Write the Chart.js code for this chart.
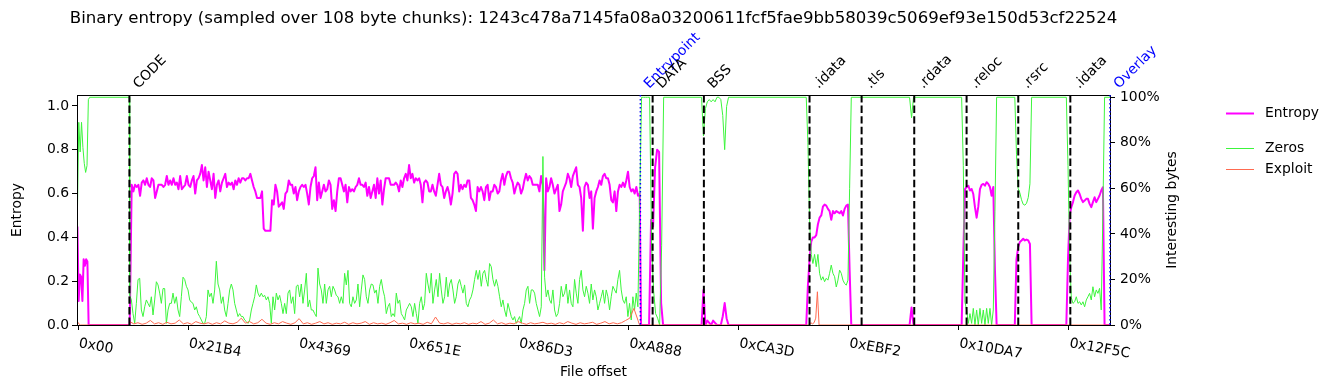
<!DOCTYPE html>
<html><head><meta charset="utf-8">
<script src="https://cdn.jsdelivr.net/npm/chart.js@4.4.1/dist/chart.umd.min.js"></script>
<style>html,body{margin:0;padding:0;background:#fff;overflow:hidden}canvas{display:block}</style>
</head><body>
<canvas id="c" width="1335" height="390"></canvas>
<script>
const chartTitle = "Binary entropy (sampled over 108 byte chunks): 1243c478a7145fa08a03200611fcf5fae9bb58039c5069ef93e150d53cf22524";
const chunkBytes = 108;
const xTickLabels = ["0x00","0x21B4","0x4369","0x651E","0x86D3","0xA888","0xCA3D","0xEBF2","0x10DA7","0x12F5C"];
const entropyTicks = [0, 0.2, 0.4, 0.6, 0.8, 1.0];
const percentTicks = [0, 20, 40, 60, 80, 100];
const xRange = [-0.95, 748.9];           // chunk index
const sectionNames  = ["CODE","Entrypoint","DATA","BSS",".idata",".tls",".rdata",".reloc",".rsrc",".idata","Overlay"];
const sectionChunks = [37.1, 408.0, 416.9, 454.1, 530.8, 568.6, 606.8, 644.8, 682.3, 720.1, 748.9];
const sectionKinds  = ["section","marker","section","section","section","section","section","section","section","section","marker"];

// ---- Entropy (0..1), values evenly spread over [fromChunk, toChunk]
const entropyHead = [0.45,0.11,0.23,0.22,0.11,0.30,0.27,0.30,0.29,0];
const entropyCode = [
0.64,0.61,0.64,0.63,0.64,0.59,0.65,0.66,0.64,0.67,0.64,0.63,0.67,0.66,0.58,0.61,0.64,0.64,0.64,0.63,
0.64,0.68,0.64,0.66,0.64,0.67,0.64,0.65,0.62,0.68,0.62,0.63,0.64,0.68,0.64,0.63,0.66,0.68,0.60,0.66,
0.67,0.69,0.73,0.66,0.72,0.63,0.70,0.66,0.62,0.69,0.58,0.64,0.66,0.61,0.65,0.67,0.69,0.63,0.65,0.64,
0.65,0.62,0.66,0.64,0.67,0.65,0.67,0.67,0.66,0.67,0.67,0.69,0.66,0.63,0.61,0.58,0.58,0.58,0.61,0.44,
0.43,0.43,0.43,0.43,
0.57,0.55,0.64,0.61,0.54,0.55,0.56,0.53,0.60,0.61,0.66,0.64,0.64,0.60,0.63,0.57,0.61,0.63,0.64,0.63,
0.64,0.60,0.55,0.63,0.67,0.68,0.72,0.57,0.65,0.58,0.61,0.64,0.61,0.62,0.66,0.64,0.53,0.57,0.52,0.61,
0.67,0.67,0.64,0.61,0.64,0.56,0.63,0.61,0.62,0.61,0.63,0.64,0.67,0.64,0.64,0.63,0.65,0.59,0.63,0.58,
0.61,0.64,0.58,0.67,0.60,0.66,0.55,0.62,0.67,0.67,0.67,0.64,0.64,0.64,0.65,0.64,0.61,0.66,0.63,0.67,
0.69,0.66,0.73,0.67,0.69,0.65,0.67,0.66,0.67,0.64,0.56,0.65,0.66,0.65,0.61,0.61,0.64,0.61,0.59,0.64,
0.69,0.64,0.63,0.58,0.61,0.63,0.60,0.55,0.60,0.69,0.70,0.69,0.61,
0.64,0.62,0.64,0.63,0.66,0.66,0.58,0.57,0.55,0.52,0.63,0.61,0.63,0.61,0.57,0.63,0.64,0.57,0.61,0.61,
0.64,0.63,0.60,0.61,0.66,0.69,0.64,0.68,0.70,0.70,0.67,0.65,0.60,0.63,0.65,0.64,0.60,0.62,0.66,0.69,
0.66,0.68,0.67,0.64,0.64,0.64,0.64,0.61,0.68,0.64,0.25,0.67,0.61,0.63,0.67,0.64,0.60,0.62,0.64,0.52,
0.55,0.61,0.63,0.65,0.69,0.67,0.63,0.68,0.70,0.72,0.64,0.63,0.58,0.43,0.63,0.65,0.64,0.58,0.61,0.44,
0.58,0.61,0.63,0.66,0.64,0.68,0.69,0.67,0.67,0.64,0.57,0.56,0.61,0.52,0.61,0.64,0.63,0.65,0.63,0.66,
0.70,0.63,0.61,0.62,0.60,0.63,0.59,0.60];
const entropyData  = [0,0,0,0,0,0.48,0.45,0.72,0.80,0.79,0.10,0];
const entropyBss   = [0,0.16,0,0.02,0.01,0,0.02,0.01,0,0,0,0.04,0.10,0.03,0];
const entropyIdata = [0,0.18,0.30,0.38,0.40,0.40,0.41,0.46,0.49,0.50,0.54,0.55,0.545,0.53,0.52,0.48,0.52,0.51,0.52,0.515,0.51,0.52,0.50,0.53,0.545,0.55,0.25,0];
const entropyRdata = [0,0.08,0];
const entropyReloc = [0,0.32,0.62,0.63,0.636,0.614,0.621,0.598,0.538,0.49,0.54,0.62,0.64,0.644,0.636,0.652,0.644,0.63,0.59,0.63,0.25,0];
const entropyRsrc  = [0,0.30,0.356,0.379,0.386,0.394,0.386,0.39,0.386,0.37,0];
const entropyIdata2 = [0,0.30,0.50,0.538,0.561,0.591,0.606,0.614,0.598,0.576,0.561,0.568,0.576,0.576,0.553,0.538,0.561,0.583,0.561,0.576,0.591,0.614,0.629,0];

// ---- Zeros (% of chunk)
const zerosHead = [49,89,76,89,78,71,67,70,99,100];
const zerosCode = [
13,11,5,0.7,9.5,20,20.5,6.6,3.7,8,11,9.5,8,12.4,4.4,11,19,17.6,14,9.5,
16,16,0.7,6.6,9.5,9.5,14,9.5,12.4,6.6,3.7,12.4,21,20,17,15.4,11,10,9.5,6.6,
8,5,3.7,2.2,0.7,0.7,3.7,15.4,12.4,14,9.5,15.4,28,18,15.4,9.5,12.4,6.6,3.7,9.5,
15.4,18,15.4,9.5,6.6,3.7,5,3.7,3.7,2.2,1.5,0.7,2.2,6.6,9.5,12.4,17.6,14,12.4,14,
12.4,13,11,12.4,9.5,0.7,12.4,6.6,14,11,13,9.5,5,9.5,5,14,15.4,9.5,12.4,5,
17,17.6,12.4,18,9.5,15.4,22.7,8,11,6.6,6.6,5,3.7,25,18,15.4,9.5,18,9.5,15.4,
17,12.4,17,15.4,13,12.4,9.5,12.4,9.5,22.7,17.6,24,9.5,8,12.4,9.5,11,18,8,15.4,
22,20,12.4,9.5,15.4,18,17.6,14,15.4,9.5,17,20,15.4,12.4,5,8,9.5,3.7,5,3.7,
14,9.5,11,5,3.7,2.2,6.6,8,9.5,
8,3.7,9.5,5,0.7,9.5,12.4,6.6,9.5,22.7,18,14,22.7,9.5,15.4,20,12.4,22.7,15.4,9.5,
12.4,21,12.4,18,20,15.4,9.5,12.4,18,20,17,14,17.6,9.5,8,11,12.4,15.4,20,24,
20,24,17,22.7,24,20,17,27,25.6,20,17,20,17,12.4,8,11,6.6,3.7,9.5,6.6,
3.7,2.2,3.7,0.7,2.2,3.7,0.7,6.6,9.5,15.4,17,9.5,15.4,15.4,14,9.5,6.6,3.7,8,74,
21,12.4,15.4,11,9.5,15.4,6.6,3.7,5,9.5,17,12.4,14,18,9.5,15.4,9.5,8,20,14,
9.5,20,24,15.4,12.4,17,14,9.5,18,11,15.4,12.4,6.6,9.5,12.4,15.4,9.5,15.4,12.4,6.6,
12.4,17,15.4,14,20,24,15.4,11,9.5,12.4,3.7,9.5,2.2,12.4,6.6,14,8];
const zerosData   = [50,100,100,100,100,100,35,15,5,3,0,35,100];
const zerosBss    = [100,83,95,98,99,98,99,98,100,100,99,92,77,96,100];
const zerosIdata  = [100,80,46,31,27,31,25.6,31,22.7,19.7,21.2,19,20.5,19.7,22.7,26.3,22.7,21.2,16.7,19.7,24.1,22.7,19.7,18.2,17.5,19.7,60,100];
const zerosRdata  = [100,91,100];
const zerosReloc  = [100,70,10,6.6,0.7,5,0.7,7.3,0,6.6,0,7.3,0.7,6.6,0,7.3,0.7,7.3,0,6.6,50,100];
const zerosRsrc   = [100,75,60,58,55,53,52.6,53.5,56,62,100];
const zerosIdata2 = [100,70,30,12,9.5,10.2,12.4,9.5,10.2,8.8,10.2,8.0,11,12.4,13.9,11,16.8,12.4,15.4,13.9,16.1,6.6,50,100];

// ---- Exploit (% of chunk)
const exploitHead = [1.5,0.5,0];
const exploitCode = [
1.5,0.5,1,0.3,0.8,2,0.5,1,0.3,1.2,0.5,0.8,2.2,0.5,1,0.3,1.5,0.8,0.5,1,
0.3,1,0.5,1.8,0.8,0.5,1.2,3,0.8,1.5,0.5,1,2.5,0.8,0.3,1,0.5,1.5,0.8,0.3,
1,2.8,0.5,1,0.3,0.8,1.5,0.5,1,0.3,0.8,0.5,1.2,0.3,1,0.5,0.8,1.5,0.3,1,
0.5,0.8,0.3,1,2,0.5,0.8,0.3,1,0.5,0.8,0.3,1.2,0.5,3.5,0.8,0.5,1,0.3,0.8,
0.5,1,0.3,0.8,0.5,1.5,0.3,0.8,2.2,0.5,1,0.3,0.8,0.5,1.5,0.8,0.3,1,0.5,0.8,
1.2,0.5,0.8,0.3,1,0.5,1.5,0.8,0.3,1,0.5,0.8,1.2,0.3,0.8,1.5,0.5,1,0.5,1,
2,3,7.3,2];
const exploitIdata = [0,1,0.5,1,3,14.6,0];

// runs: [fromChunk, toChunk, values]
const entropyRuns = [
 [-0.65, 7.5, entropyHead], [7.5, 37.3, [0,0]], [38.76, 407.5, entropyCode],
 [408.5, 424.5, entropyData], [424.5, 452.4, [0,0]], [452.4, 472.0, entropyBss],
 [472.0, 528.4, [0,0]], [528.4, 561.1, entropyIdata], [561.1, 603.4, [0,0]],
 [603.4, 606.3, entropyRdata], [606.3, 641.2, [0,0]], [641.2, 666.6, entropyReloc],
 [666.6, 679.8, [0,0]], [679.8, 692.0, entropyRsrc], [692.0, 717.2, [0,0]],
 [717.2, 744.96, entropyIdata2], [744.96, 748.9, [0,0]]];
const zerosRuns = [
 [-0.65, 8.3, zerosHead], [8.3, 37.0, [100,100]], [37.3, 406.2, zerosCode],
 [407.4, 424.9, zerosData], [424.9, 452.4, [100,100]], [452.4, 472.0, zerosBss],
 [472.0, 528.4, [100,100]], [528.4, 561.1, zerosIdata], [561.1, 603.4, [100,100]],
 [603.4, 606.3, zerosRdata], [606.3, 641.2, [100,100]], [641.2, 666.6, zerosReloc],
 [666.6, 679.8, [100,100]], [679.8, 692.0, zerosRsrc], [692.0, 717.2, [100,100]],
 [717.2, 744.96, zerosIdata2], [744.96, 748.9, [100,100]]];
const exploitRuns = [
 [-0.65, 1.5, exploitHead], [1.5, 37.3, [0,0]], [37.3, 406.3, exploitCode],
 [407.4, 530.5, [0,0]], [530.5, 537.7, exploitIdata], [537.7, 748.9, [0,0]]];

function buildSeries(runs) {
  const pts = [];
  runs.forEach(([a, b, vals]) => {
    const n = vals.length;
    vals.forEach((v, i) => pts.push({x: n > 1 ? a + (b - a) * i / (n - 1) : a, y: v}));
  });
  return pts;
}

const FONT = '"DejaVu Sans", sans-serif';
Chart.defaults.font.family = FONT;
Chart.defaults.font.size = 13.9;
Chart.defaults.color = '#000';

const tickGrid = {display: true, drawOnChartArea: false, drawTicks: true, tickLength: 5, color: '#000', lineWidth: 1};

const decor = {
  id: 'decor',
  afterDatasetsDraw(chart) {
    const {ctx, chartArea: a, scales: {x}} = chart;
    ctx.save();
    ctx.strokeStyle = '#000'; ctx.lineWidth = 1;
    ctx.strokeRect(a.left + 0.5, a.top + 0.5, a.right - a.left, a.bottom - a.top);
    // section markers
    sectionNames.forEach((name, i) => {
      const px = x.getPixelForValue(sectionChunks[i]);
      const marker = sectionKinds[i] === 'marker';
      ctx.beginPath();
      ctx.setLineDash(marker ? [1.5, 2.5] : [7.4, 3.2]);
      ctx.lineWidth = marker ? 1.5 : 2;
      ctx.strokeStyle = marker ? '#0000ff' : '#000';
      ctx.moveTo(px, a.top); ctx.lineTo(px, a.bottom); ctx.stroke();
      ctx.save();
      ctx.setLineDash([]);
      ctx.font = '13.9px ' + FONT;
      ctx.fillStyle = marker ? '#0000ff' : '#000';
      ctx.textAlign = 'left'; ctx.textBaseline = 'alphabetic';
      ctx.translate(px + 9, 89);
      ctx.rotate(-Math.PI / 4);
      ctx.fillText(name, 0, 0);
      ctx.restore();
    });
    ctx.setLineDash([]);
    // x tick labels (rotated)
    ctx.font = '13.9px ' + FONT;
    ctx.fillStyle = '#000';
    x.ticks.forEach((t, i) => {
      const px = x.getPixelForValue(t.value);
      ctx.save();
      ctx.translate(px, 347);
      ctx.rotate(10 * Math.PI / 180);
      ctx.textAlign = 'left'; ctx.textBaseline = 'alphabetic';
      ctx.fillText(xTickLabels[i], 0, 0);
      ctx.restore();
    });
    // axis titles
    ctx.textAlign = 'center'; ctx.textBaseline = 'middle';
    ctx.fillText('File offset', (a.left + a.right) / 2, 372);
    ctx.save(); ctx.translate(17, (a.top + a.bottom) / 2); ctx.rotate(-Math.PI / 2);
    ctx.fillText('Entropy', 0, 0); ctx.restore();
    ctx.save(); ctx.translate(1172, (a.top + a.bottom) / 2); ctx.rotate(-Math.PI / 2);
    ctx.fillText('Interesting bytes', 0, 0); ctx.restore();
    // title
    ctx.font = '16.6px ' + FONT;
    ctx.fillText(chartTitle, (a.left + a.right) / 2, 19);
    // legend
    const legend = [['Entropy', '#ff00ff', 2, 113], ['Zeros', '#3cf53c', 1, 148], ['Exploit', '#ff6a50', 1, 169]];
    ctx.font = '13.9px ' + FONT;
    ctx.textAlign = 'left';
    legend.forEach(([lab, col, w, y]) => {
      ctx.beginPath(); ctx.strokeStyle = col; ctx.lineWidth = w;
      ctx.moveTo(1226, y + 0.5); ctx.lineTo(1254, y + 0.5); ctx.stroke();
      ctx.fillStyle = '#000';
      ctx.fillText(lab, 1265, y);
    });
    ctx.restore();
  }
};

const common = {pointRadius: 0, tension: 0, fill: false, borderJoinStyle: 'round'};
new Chart(document.getElementById('c'), {
  type: 'line',
  data: {datasets: [
    Object.assign({label: 'Entropy', data: buildSeries(entropyRuns), borderColor: '#ff00ff', borderWidth: 2, yAxisID: 'y', order: 3}, common),
    Object.assign({label: 'Zeros', data: buildSeries(zerosRuns), borderColor: '#3cf53c', borderWidth: 1, yAxisID: 'y2', order: 2}, common),
    Object.assign({label: 'Exploit', data: buildSeries(exploitRuns), borderColor: '#ff6a50', borderWidth: 1, yAxisID: 'y2', order: 1}, common)
  ]},
  options: {
    responsive: false, animation: false, devicePixelRatio: 1,
    layout: {padding: {top: 95, left: 0, right: 0, bottom: 0}},
    plugins: {legend: {display: false}, title: {display: false}, tooltip: {enabled: false}},
    scales: {
      x: {type: 'linear', position: 'bottom', min: xRange[0], max: xRange[1],
          grid: tickGrid, border: {display: false}, ticks: {display: false},
          afterBuildTicks: s => { s.ticks = xTickLabels.map(l => ({value: parseInt(l, 16) / chunkBytes})); },
          afterFit: s => { s.height = 65; }},
      y: {type: 'linear', position: 'left', min: 0, max: 1.05,
          grid: tickGrid, border: {display: false},
          ticks: {padding: 3, callback: v => v.toFixed(1)},
          afterBuildTicks: s => { s.ticks = entropyTicks.map(v => ({value: v})); },
          afterFit: s => { s.width = 77; }},
      y2: {type: 'linear', position: 'right', min: 0, max: 101,
          grid: tickGrid, border: {display: false},
          ticks: {padding: 5, callback: v => v + '%'},
          afterBuildTicks: s => { s.ticks = percentTicks.map(v => ({value: v})); },
          afterFit: s => { s.width = 225; }}
    }
  },
  plugins: [decor]
});
</script>
</body></html>
